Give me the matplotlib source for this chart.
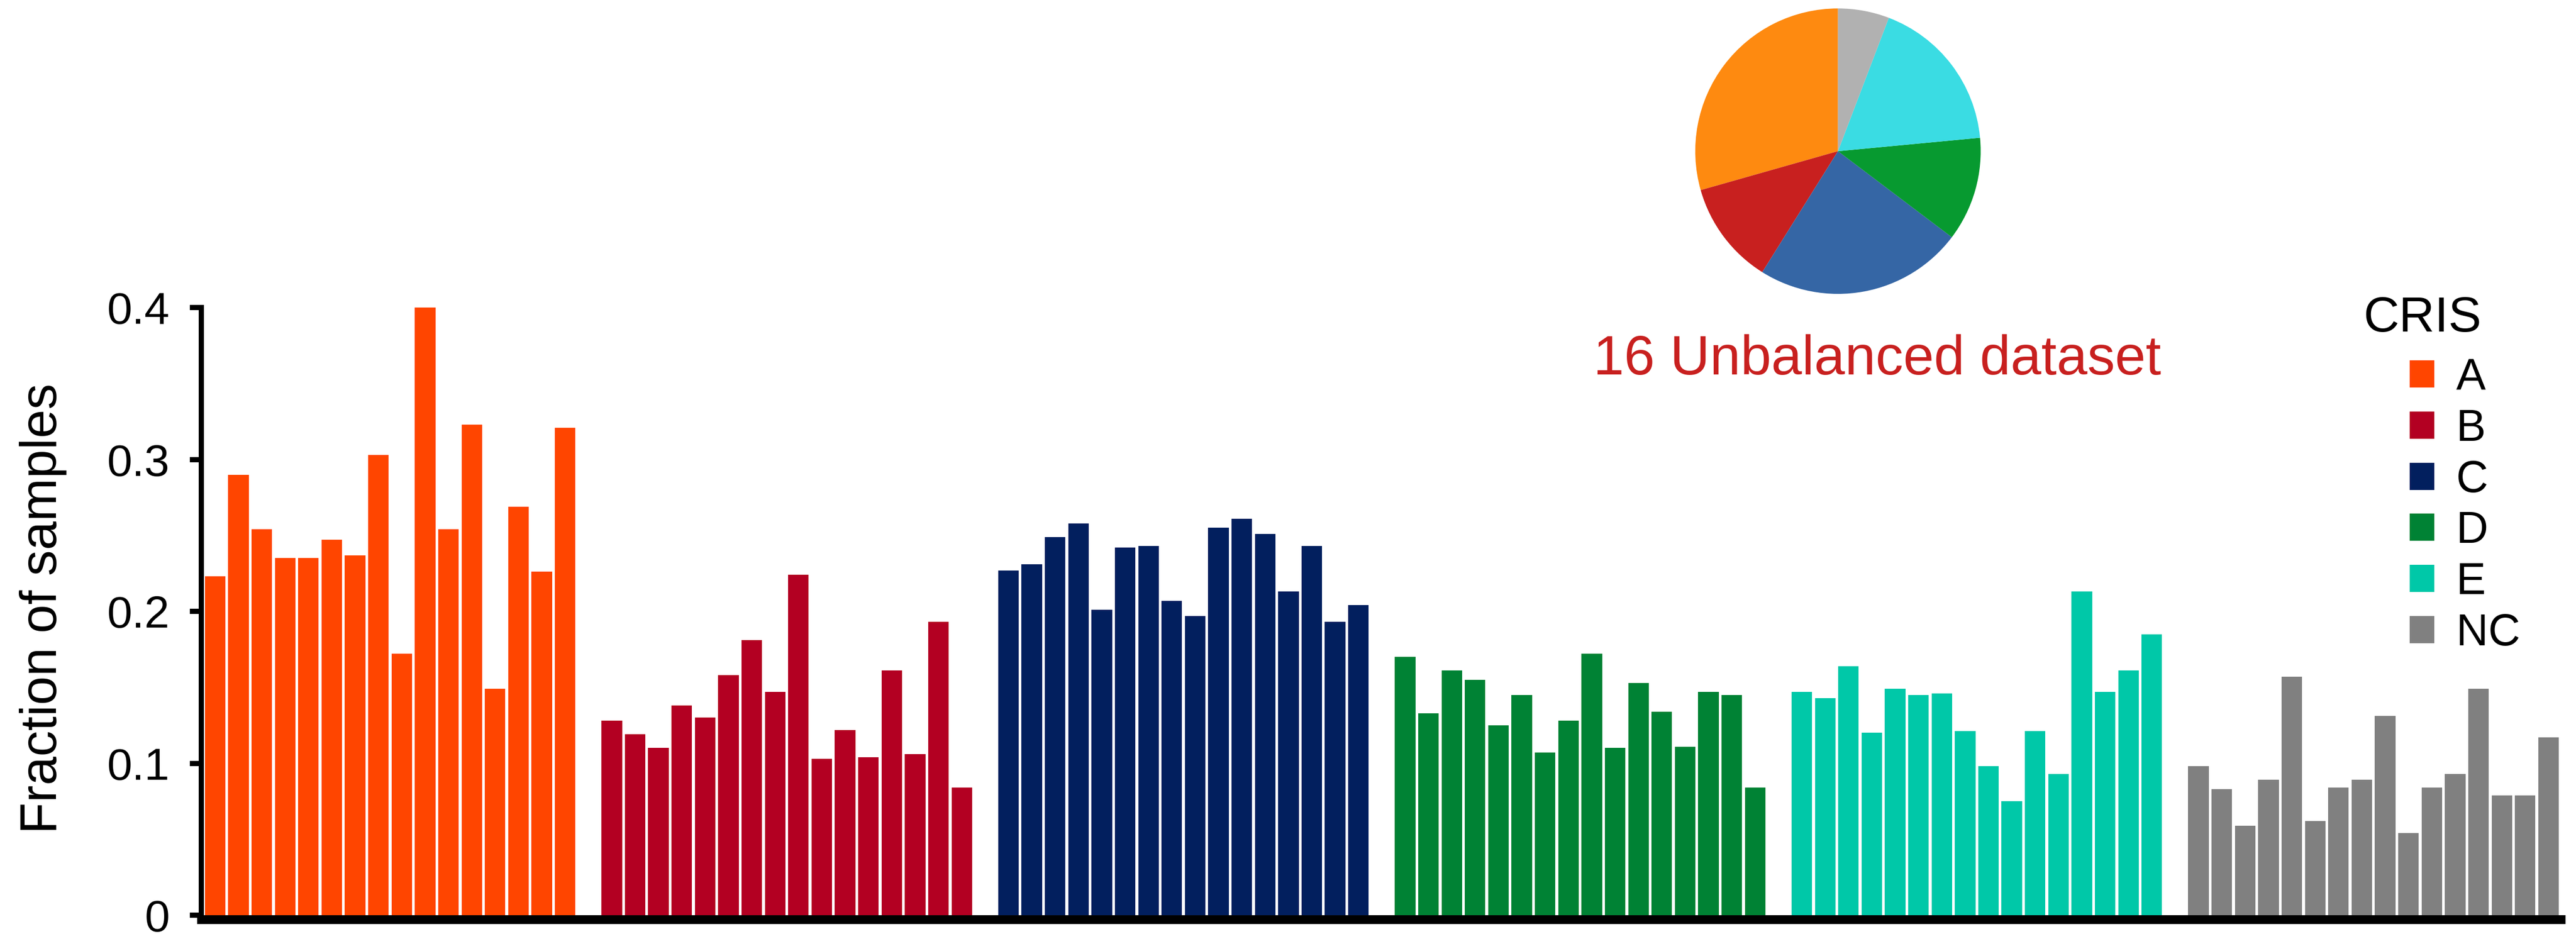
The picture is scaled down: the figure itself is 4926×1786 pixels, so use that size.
import matplotlib
matplotlib.use('Agg')  # no display available
import matplotlib.pyplot as plt
from matplotlib.patches import Patch

plt.rcParams['font.family'] = ['Liberation Sans', 'DejaVu Sans']

# CRIS subtypes and their colours
subtypes = ['A', 'B', 'C', 'D', 'E', 'NC']
bar_colors = ['#FF4500', '#B30022', '#021F5E', '#008234', '#00C8A8', '#808080']

# fraction of samples per subtype, 16 runs each
frac_A = [0.223, 0.290, 0.254, 0.235, 0.235, 0.247, 0.237, 0.303,
          0.172, 0.400, 0.254, 0.323, 0.149, 0.269, 0.226, 0.321]
frac_B = [0.128, 0.119, 0.110, 0.138, 0.130, 0.158, 0.181, 0.147,
          0.224, 0.103, 0.122, 0.104, 0.161, 0.106, 0.193, 0.084]
frac_C = [0.227, 0.231, 0.249, 0.258, 0.201, 0.242, 0.243, 0.207,
          0.197, 0.255, 0.261, 0.251, 0.213, 0.243, 0.193, 0.204]
frac_D = [0.170, 0.133, 0.161, 0.155, 0.125, 0.145, 0.107, 0.128,
          0.172, 0.110, 0.153, 0.134, 0.111, 0.147, 0.145, 0.084]
frac_E = [0.147, 0.143, 0.164, 0.120, 0.149, 0.145, 0.146, 0.121,
          0.098, 0.075, 0.121, 0.093, 0.213, 0.147, 0.161, 0.185]
frac_NC = [0.098, 0.083, 0.059, 0.089, 0.157, 0.062, 0.084, 0.089,
           0.131, 0.054, 0.084, 0.093, 0.149, 0.079, 0.079, 0.117]

# share of each subtype in the unbalanced dataset (pie)
pie_share = [29.4, 11.7, 23.6, 11.8, 17.7, 5.8]
pie_colors = ['#FE8A10', '#C8201F', '#3566A5', '#079A30', '#3ADCE3', '#B1B1B1']

yticks = [0, 0.1, 0.2, 0.3, 0.4]
ytick_labels = ['0', '0.1', '0.2', '0.3', '0.4']

fig = plt.figure(figsize=(49.26, 17.86), dpi=100)
ax = fig.add_axes([0.07816, 0.02016, 0.91596, 0.6506])

pos = 0
for vals, col in zip([frac_A, frac_B, frac_C, frac_D, frac_E, frac_NC], bar_colors):
    xs = list(range(pos, pos + len(vals)))
    ax.bar(xs, vals, width=0.88, color=col, linewidth=0)
    pos += len(vals) + 1   # one empty slot between groups

ax.set_xlim(-0.59, pos - 2 + 0.53)
ax.set_ylim(0, 0.4)
ax.set_xticks([])
ax.set_yticks(yticks, ytick_labels)
ax.tick_params(axis='y', length=15.8, width=7.2, pad=28, labelsize=62)
for side in ['top', 'right']:
    ax.spines[side].set_visible(False)
ax.spines['left'].set_linewidth(7.2)
ax.spines['bottom'].set_linewidth(12.2)
ax.spines['bottom'].set_position(('outward', 6))
ax.set_ylabel('Fraction of samples', fontsize=71)
ax.yaxis.set_label_coords(-0.057, 0.505)

# pie of subtype shares
pax = fig.add_axes([0.6581, 0.6853, 0.1108, 0.3057])
pax.pie(pie_share, colors=pie_colors, startangle=90, counterclock=True,
        radius=1, wedgeprops=dict(linewidth=0))
pax.set_xlim(-1, 1)
pax.set_ylim(-1, 1)
pax.set_aspect('equal')

fig.text(0.7287, 0.5991, '16 Unbalanced dataset', ha='center', va='baseline',
         fontsize=76, color='#C8201F')

# legend
fig.text(0.9403, 0.645, 'CRIS', ha='center', va='baseline', fontsize=68)
handles = [Patch(facecolor=c, edgecolor='none') for c in bar_colors]
fig.legend(handles, subtypes, loc='upper left', bbox_to_anchor=(0.9355, 0.6176),
           frameon=False, fontsize=61, handlelength=0.553, handleheight=0.565,
           handletextpad=0.49, labelspacing=0.21, borderpad=0, borderaxespad=0)

plt.savefig('out.png', dpi=100)
plt.close()
